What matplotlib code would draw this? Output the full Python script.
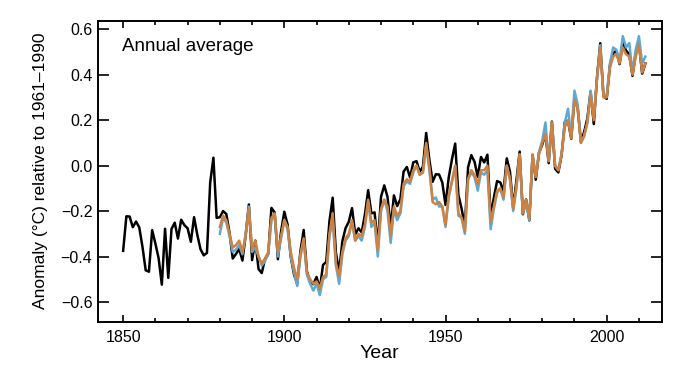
import matplotlib
matplotlib.use("Agg")
import matplotlib.pyplot as plt
from matplotlib.ticker import MultipleLocator

plt.rcParams['font.family'] = ['Liberation Sans', 'DejaVu Sans']

years_had = list(range(1850, 2013))
hadcrut = [
    -0.375, -0.223, -0.224, -0.271, -0.246, -0.272, -0.358, -0.461, -0.467, -0.284,
    -0.343, -0.407, -0.524, -0.278, -0.494, -0.279, -0.251, -0.321, -0.238, -0.262,
    -0.276, -0.335, -0.227, -0.304, -0.368, -0.395, -0.384, -0.075, 0.035, -0.230,
    -0.227, -0.200, -0.213, -0.296, -0.409, -0.389, -0.367, -0.418, -0.307, -0.171,
    -0.416, -0.330, -0.455, -0.473, -0.410, -0.390, -0.186, -0.206, -0.412, -0.289,
    -0.203, -0.259, -0.402, -0.479, -0.520, -0.377, -0.283, -0.465, -0.511, -0.522,
    -0.490, -0.544, -0.437, -0.424, -0.244, -0.141, -0.383, -0.468, -0.333, -0.275,
    -0.247, -0.187, -0.302, -0.276, -0.294, -0.215, -0.108, -0.210, -0.206, -0.350,
    -0.137, -0.087, -0.137, -0.273, -0.131, -0.178, -0.147, -0.026, -0.006, -0.052,
    0.014, 0.020, -0.027, -0.004, 0.144, 0.025, -0.071, -0.038, -0.039, -0.074,
    -0.173, -0.052, 0.028, 0.097, -0.129, -0.190, -0.267, -0.007, 0.046, 0.017,
    -0.049, 0.038, 0.014, 0.048, -0.223, -0.140, -0.068, -0.074, -0.113, 0.032,
    -0.027, -0.186, -0.065, 0.062, -0.214, -0.149, -0.241, 0.047, -0.062, 0.057,
    0.092, 0.140, 0.011, 0.194, -0.014, -0.030, 0.045, 0.192, 0.198, 0.118,
    0.296, 0.254, 0.105, 0.148, 0.208, 0.325, 0.183, 0.390, 0.539, 0.306,
    0.294, 0.441, 0.496, 0.505, 0.447, 0.545, 0.506, 0.491, 0.395, 0.494,
    0.540, 0.405, 0.450,
]

years_other = list(range(1880, 2013))
noaa = [
    -0.27, -0.22, -0.24, -0.30, -0.36, -0.35, -0.33, -0.38, -0.31, -0.19,
    -0.37, -0.33, -0.40, -0.43, -0.41, -0.38, -0.23, -0.21, -0.38, -0.31,
    -0.24, -0.27, -0.38, -0.45, -0.50, -0.39, -0.32, -0.47, -0.50, -0.52,
    -0.51, -0.54, -0.49, -0.48, -0.30, -0.21, -0.43, -0.49, -0.38, -0.32,
    -0.30, -0.24, -0.33, -0.30, -0.31, -0.26, -0.15, -0.25, -0.24, -0.37,
    -0.19, -0.15, -0.18, -0.31, -0.18, -0.22, -0.20, -0.08, -0.06, -0.07,
    -0.02, 0.00, -0.04, -0.03, 0.10, -0.01, -0.16, -0.17, -0.16, -0.18,
    -0.26, -0.13, -0.07, 0.00, -0.21, -0.23, -0.29, -0.06, -0.02, -0.04,
    -0.08, -0.02, -0.02, 0.00, -0.25, -0.18, -0.11, -0.10, -0.14, 0.00,
    -0.06, -0.19, -0.09, 0.05, -0.21, -0.15, -0.23, 0.05, -0.05, 0.05,
    0.10, 0.14, 0.02, 0.19, 0.00, -0.02, 0.05, 0.17, 0.20, 0.12,
    0.29, 0.25, 0.10, 0.13, 0.19, 0.31, 0.20, 0.39, 0.52, 0.30,
    0.30, 0.43, 0.48, 0.49, 0.45, 0.52, 0.49, 0.48, 0.40, 0.48,
    0.53, 0.41, 0.45,
]
giss = [
    -0.30, -0.23, -0.25, -0.31, -0.38, -0.37, -0.35, -0.39, -0.30, -0.18,
    -0.38, -0.36, -0.40, -0.44, -0.42, -0.39, -0.24, -0.22, -0.40, -0.32,
    -0.24, -0.28, -0.40, -0.47, -0.53, -0.40, -0.33, -0.48, -0.52, -0.55,
    -0.52, -0.57, -0.50, -0.49, -0.31, -0.24, -0.44, -0.52, -0.39, -0.33,
    -0.31, -0.25, -0.33, -0.31, -0.33, -0.27, -0.16, -0.27, -0.25, -0.40,
    -0.20, -0.15, -0.20, -0.34, -0.19, -0.24, -0.21, -0.09, -0.07, -0.08,
    -0.03, 0.00, -0.04, -0.03, 0.09, -0.02, -0.15, -0.14, -0.18, -0.18,
    -0.27, -0.14, -0.07, 0.00, -0.22, -0.23, -0.30, -0.06, -0.03, -0.05,
    -0.11, -0.03, -0.04, -0.02, -0.28, -0.19, -0.12, -0.10, -0.15, 0.00,
    -0.06, -0.20, -0.10, 0.05, -0.21, -0.16, -0.24, 0.04, -0.05, 0.06,
    0.11, 0.19, 0.02, 0.19, 0.00, -0.02, 0.05, 0.19, 0.25, 0.13,
    0.33, 0.27, 0.10, 0.13, 0.19, 0.33, 0.21, 0.38, 0.53, 0.31,
    0.31, 0.45, 0.52, 0.51, 0.46, 0.57, 0.52, 0.54, 0.41, 0.51,
    0.57, 0.45, 0.48,
]

fig = plt.figure(figsize=(7.0, 3.69), dpi=100)
ax = fig.add_axes([98/700, 1-321.7/369, (661.5-98)/700, (321.7-20.7)/369])

ax.plot(years_had, hadcrut, color='black', lw=1.8, zorder=3)
ax.plot(years_other, giss, color='#5ea8d6', lw=1.8, zorder=4)
ax.plot(years_other, noaa, color='#cf8240', lw=1.8, zorder=5)

ax.set_xlim(1842.2, 2017.0)
ax.set_ylim(-0.687, 0.638)
ax.set_xticks([1850, 1900, 1950, 2000])
ax.xaxis.set_minor_locator(MultipleLocator(10))
ax.set_yticks([-0.6, -0.4, -0.2, 0.0, 0.2, 0.4, 0.6])
ax.set_yticklabels(['\u22120.6', '\u22120.4', '\u22120.2', '0.0', '0.2', '0.4', '0.6'])

ax.tick_params(axis='both', which='both', direction='in', top=True, right=True,
               labelsize=11.5, width=1.2)
ax.tick_params(axis='x', which='major', length=5, pad=6)
ax.tick_params(axis='x', which='minor', length=3)
ax.tick_params(axis='y', which='major', length=8, pad=4)
for s in ax.spines.values():
    s.set_linewidth(1.4)

ax.set_xlabel('Year', fontsize=14, labelpad=0)
ax.set_ylabel('Anomaly (°C) relative to 1961\u20131990', fontsize=12.5, labelpad=9)
ax.text(0.043, 0.915, 'Annual average', transform=ax.transAxes, fontsize=13.5,
        ha='left', va='center')

fig.savefig('out.png', dpi=100)
